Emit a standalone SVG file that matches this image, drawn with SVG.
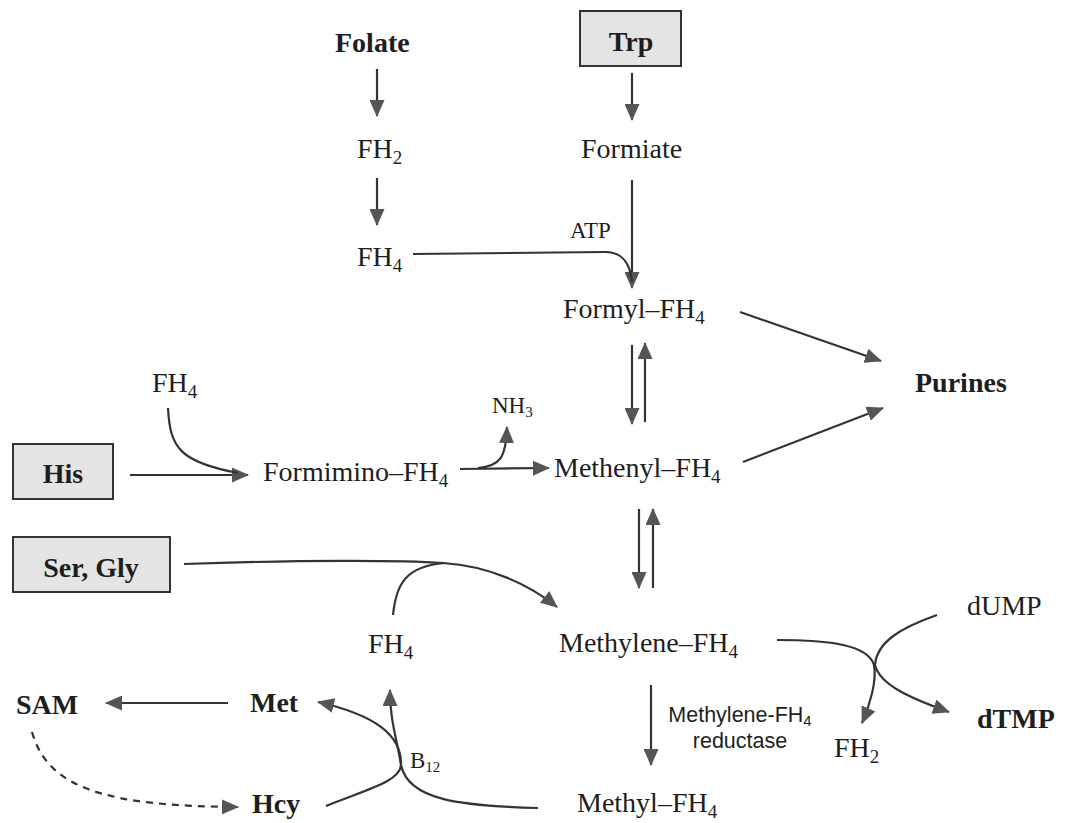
<svg xmlns="http://www.w3.org/2000/svg" width="1073" height="823" viewBox="0 0 1073 823">
<defs>
<marker id="ah" markerUnits="userSpaceOnUse" markerWidth="17" markerHeight="15" refX="16" refY="7.5" orient="auto">
<path d="M0,0 L17,7.5 L0,15 z" fill="#555"/>
</marker>
<style>
.t{font-family:"Liberation Serif","Times New Roman",serif;font-size:28px;fill:#1e1e1e}
.b{font-weight:bold}
.s{font-size:23px}
.sans{font-family:"Liberation Sans",Arial,sans-serif;font-size:21.5px;fill:#1e1e1e}
.sub{font-size:19px}
.subs{font-size:15px}
.box{fill:#e4e4e4;stroke:#333;stroke-width:2}
.c{fill:none;stroke:#333;stroke-width:2.2}
.a{marker-end:url(#ah)}
.d{stroke-dasharray:7 6}
</style>
</defs>
<rect width="1073" height="823" fill="#fff"/>

<g id="connectors">
<path class="c a" d="M377,69 L377,116"/>
<path class="c a" d="M377,178 L377,225"/>
<path class="c a" d="M632,73 L632,120"/>
<path class="c a" d="M632,180 L632,288"/>
<path class="c" d="M413,254 L605,252 C622,252 630,262 632,282"/>
<path class="c a" d="M740,312 L881,361"/>
<path class="c a" d="M743,462 L883,408"/>
<path class="c a" d="M632,345 L632,424"/>
<path class="c a" d="M645,422 L645,343"/>
<path class="c a" d="M639,509 L639,588"/>
<path class="c a" d="M653,588 L653,509"/>
<path class="c a" d="M130,475 L248,475"/>
<path class="c" d="M168,408 C170,448 180,462 238,473"/>
<path class="c a" d="M460,469 L549,468"/>
<path class="c a" d="M478,468 C500,466 506,458 507,427"/>
<path class="c a" d="M184,564 C300,560 400,560 443,563 C490,566 530,585 557,607"/>
<path class="c" d="M393,615 C396,585 405,566 445,563"/>
<path class="c a" d="M228,703 L106,703"/>
<path class="c a d" d="M32,732 C48,790 110,806 238,807"/>
<path class="c a" d="M326,806 C365,790 400,782 401,765 C402,735 375,715 318,702"/>
<path class="c a" d="M538,808 C460,806 408,800 401,765 C396,735 390,720 390,690"/>
<path class="c a" d="M651,685 L651,765"/>
<path class="c a" d="M777,640 C830,640 868,645 874,665 C877,680 870,705 862,723"/>
<path class="c a" d="M937,615 C900,628 877,642 875,665 C880,685 910,698 949,712"/>
</g>

<g id="folate"><text class="t b" x="335" y="52">Folate</text></g>
<g id="trp"><rect class="box" x="580" y="11" width="101" height="55"/><text class="t b" x="631" y="51" text-anchor="middle">Trp</text></g>
<g id="fh2-top"><text class="t" x="357" y="158">FH<tspan class="sub" dy="6">2</tspan></text></g>
<g id="fh4-top"><text class="t" x="357" y="266">FH<tspan class="sub" dy="6">4</tspan></text></g>
<g id="formiate"><text class="t" x="581" y="158">Formiate</text></g>
<g id="atp"><text class="t s" x="570" y="238">ATP</text></g>
<g id="formyl"><text class="t" x="563" y="318">Formyl–FH<tspan class="sub" dy="6">4</tspan></text></g>
<g id="purines"><text class="t b" x="915" y="392">Purines</text></g>
<g id="fh4-his"><text class="t" x="152" y="392">FH<tspan class="sub" dy="6">4</tspan></text></g>
<g id="nh3"><text class="t s" x="492" y="413">NH<tspan class="subs" dy="4">3</tspan></text></g>
<g id="his"><rect class="box" x="13" y="444" width="100" height="55"/><text class="t b" x="63" y="483" text-anchor="middle">His</text></g>
<g id="formimino"><text class="t" x="263" y="481">Formimino–FH<tspan class="sub" dy="6">4</tspan></text></g>
<g id="methenyl"><text class="t" x="554" y="477">Methenyl–FH<tspan class="sub" dy="6">4</tspan></text></g>
<g id="sergly"><rect class="box" x="13" y="537" width="157" height="55"/><text class="t b" x="91" y="577" text-anchor="middle">Ser, Gly</text></g>
<g id="fh4-low"><text class="t" x="368" y="653">FH<tspan class="sub" dy="6">4</tspan></text></g>
<g id="methylene"><text class="t" x="559" y="652">Methylene–FH<tspan class="sub" dy="6">4</tspan></text></g>
<g id="dump"><text class="t" x="967" y="615">dUMP</text></g>
<g id="sam"><text class="t b" x="16" y="714">SAM</text></g>
<g id="met"><text class="t b" x="250" y="712">Met</text></g>
<g id="reductase"><text class="sans" x="740" y="722" text-anchor="middle">Methylene-FH<tspan font-size="15" dy="4">4</tspan></text><text class="sans" x="740" y="748" text-anchor="middle">reductase</text></g>
<g id="fh2-low"><text class="t" x="834" y="757">FH<tspan class="sub" dy="6">2</tspan></text></g>
<g id="dtmp"><text class="t b" x="977" y="728">dTMP</text></g>
<g id="b12"><text class="t s" x="410" y="768">B<tspan class="subs" dy="4">12</tspan></text></g>
<g id="hcy"><text class="t b" x="252" y="813">Hcy</text></g>
<g id="methyl"><text class="t" x="577" y="812">Methyl–FH<tspan class="sub" dy="6">4</tspan></text></g>
</svg>
